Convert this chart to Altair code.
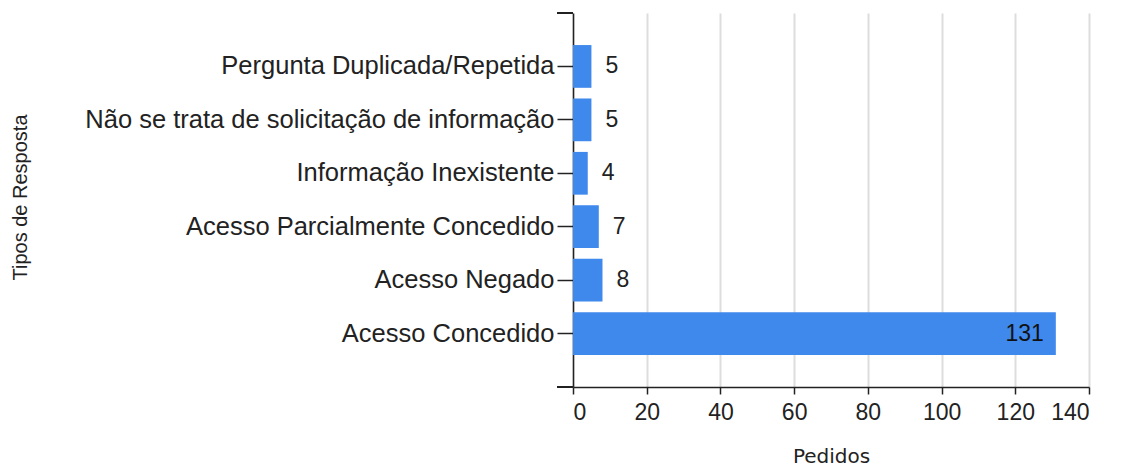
import altair as alt
import pandas as pd

categories = [
    "Pergunta Duplicada/Repetida",
    "Não se trata de solicitação de informação",
    "Informação Inexistente",
    "Acesso Parcialmente Concedido",
    "Acesso Negado",
    "Acesso Concedido",
]
values = [5, 5, 4, 7, 8, 131]
x_ticks = [0, 20, 40, 60, 80, 100, 120, 140]

df = pd.DataFrame({"Tipo": categories, "Pedidos": values})
df["inside"] = df["Pedidos"] > 50

W, H = 516, 374
BAR = "#3f88ec"
FONT = "Liberation Sans"

y_enc = alt.Y(
    "Tipo:N",
    sort=categories,
    scale=alt.Scale(paddingInner=0.2, paddingOuter=0.6),
    axis=alt.Axis(
        title="Tipos de Resposta",
        titleFont=FONT,
        titleFontSize=20,
        titleFontWeight="normal",
        titleColor="#222",
        titleAngle=-90,
        titleX=-553,
        titleY=H / 2 - 3,
        titleAlign="center",
        titleBaseline="middle",
        labelFont=FONT,
        labelFontSize=25.5,
        labelColor="#222",
        labelPadding=3,
        labelLimit=700,
        tickSize=16,
        tickColor="#222",
        tickWidth=1.5,
        domainColor="#222",
        domainWidth=1.5,
        grid=False,
    ),
)

x_enc = alt.X(
    "Pedidos:Q",
    scale=alt.Scale(domain=[0, 140], nice=False),
    axis=alt.Axis(
        title="Pedidos",
        titleFont="DejaVu Sans",
        titleFontSize=20,
        titleFontWeight="normal",
        titleColor="#222",
        titleY=69,
        titleBaseline="middle",
        values=x_ticks,
        labelFont=FONT,
        labelFontSize=23,
        labelColor="#222",
        labelPadding=7,
        tickSize=7,
        tickColor="#222",
        tickWidth=1.5,
        domainColor="#222",
        domainWidth=1.5,
        grid=True,
        gridColor="#dddddd",
        gridWidth=2,
    ),
)

base = alt.Chart(df)

bars = base.mark_bar(color=BAR).encode(y=y_enc, x=x_enc)

text_out = base.transform_filter("!datum.inside").mark_text(
    align="left", baseline="middle", dx=14, font=FONT, fontSize=23, color="#222"
).encode(y=alt.Y("Tipo:N", sort=categories), x="Pedidos:Q", text="Pedidos:Q")

text_in = base.transform_filter("datum.inside").mark_text(
    align="right", baseline="middle", dx=-12, font=FONT, fontSize=23, color="#111"
).encode(y=alt.Y("Tipo:N", sort=categories), x="Pedidos:Q", text="Pedidos:Q")

top_tick = alt.Chart(df).mark_rule(color="#222", strokeWidth=1.5).encode(
    x=alt.value(-16), x2=alt.value(0), y=alt.value(0)
)
bottom_ext = alt.Chart(df).mark_rule(color="#222", strokeWidth=1.5).encode(
    x=alt.value(-16), x2=alt.value(0), y=alt.value(H)
)

chart = (
    alt.layer(bars, text_out, text_in, top_tick, bottom_ext)
    .properties(
        width=W,
        height=H,
        autosize=alt.AutoSizeParams(type="none"),
        padding={"left": 573, "top": 13, "right": 1121 - 573 - W, "bottom": 466 - 13 - H},
        background="white",
    )
    .configure_view(stroke=None)
)

chart.save("out.html", embed_options={"renderer": "svg", "actions": False})
